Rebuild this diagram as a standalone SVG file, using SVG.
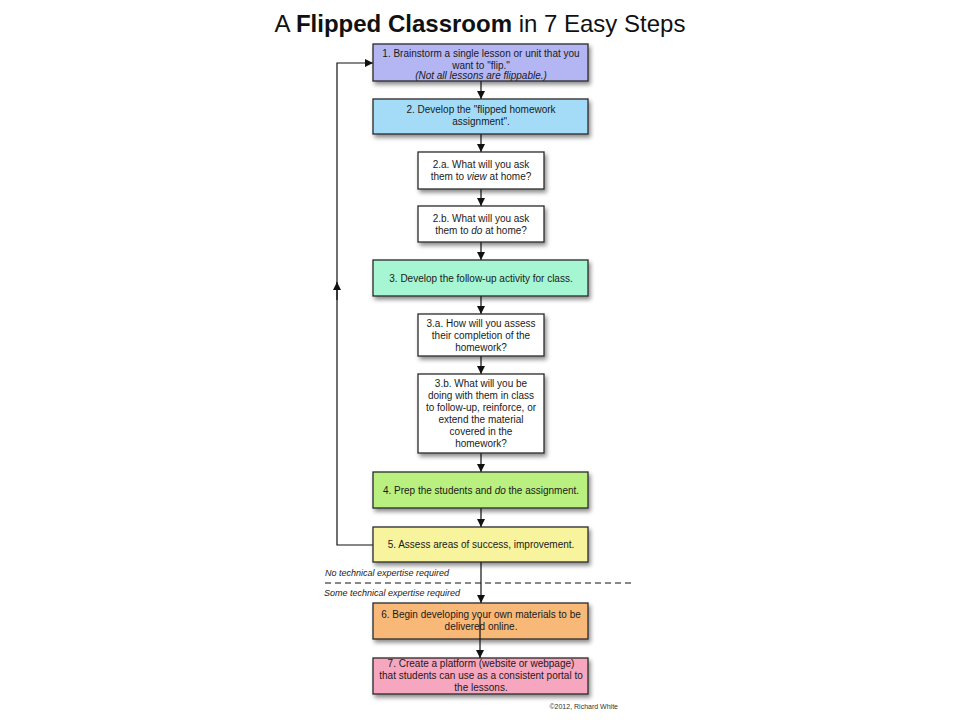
<svg xmlns="http://www.w3.org/2000/svg" width="960" height="720" viewBox="0 0 960 720">
<defs>
<filter id="sh" x="-10%" y="-20%" width="125%" height="160%">
<feDropShadow dx="2" dy="3" stdDeviation="2" flood-color="#000" flood-opacity="0.45"/>
</filter>
<marker id="ah" viewBox="0 0 10 10" refX="10" refY="5" markerWidth="8" markerHeight="8" markerUnits="userSpaceOnUse" orient="auto">
<path d="M0,0 L10,5 L0,10 z" fill="#111"/>
</marker>
<style>
.box{stroke:#2a2a2a;stroke-width:1.3;filter:url(#sh)}
.t{font-family:"Liberation Sans",Arial,sans-serif;font-size:10px;fill:#1a1a1a;text-anchor:middle}
.n{font-family:"Liberation Sans",Arial,sans-serif;font-size:9px;font-style:italic;fill:#1a1a1a}
.c{fill:none;stroke:#111;stroke-width:1.2;marker-end:url(#ah)}
</style>
</defs>
<rect width="960" height="720" fill="#fff"/>
<text x="480" y="32" text-anchor="middle" font-family="'Liberation Sans',Arial,sans-serif" font-size="24" fill="#111">A <tspan font-weight="bold">Flipped Classroom</tspan> in 7 Easy Steps</text>

<g id="connectors">
<line class="c" x1="481" y1="81" x2="481" y2="99"/>
<line class="c" x1="481" y1="134" x2="481" y2="152"/>
<line class="c" x1="481" y1="189" x2="481" y2="206"/>
<line class="c" x1="481" y1="242" x2="481" y2="260"/>
<line class="c" x1="481" y1="296" x2="481" y2="314"/>
<line class="c" x1="481" y1="356" x2="481" y2="374"/>
<line class="c" x1="481" y1="453" x2="481" y2="472"/>
<line class="c" x1="481" y1="508" x2="481" y2="527"/>
<line class="c" x1="481" y1="562" x2="481" y2="603"/>
<polyline class="c" points="373,545 337,545 337,63 373,63"/>
<line class="c" x1="337" y1="300" x2="337" y2="282"/>
</g>

<g id="node1">
<rect class="box" x="373" y="44" width="215" height="37" fill="#b4b6f3"/>
<text class="t" x="481" y="57">1. Brainstorm a single lesson or unit that you</text>
<text class="t" x="481" y="69">want to "flip."</text>
<text class="t" x="481" y="79" font-size="9" font-style="italic">(Not all lessons are flippable.)</text>
</g>
<g id="node2">
<rect class="box" x="373" y="99" width="215" height="35" fill="#a4dcf8"/>
<text class="t" x="481" y="113">2. Develop the "flipped homework</text>
<text class="t" x="481" y="125">assignment".</text>
</g>
<g id="node2a">
<rect class="box" x="418" y="152" width="126" height="37" fill="#fff"/>
<text class="t" x="481" y="168">2.a. What will you ask</text>
<text class="t" x="481" y="180">them to <tspan font-style="italic">view</tspan> at home?</text>
</g>
<g id="node2b">
<rect class="box" x="418" y="206" width="126" height="36" fill="#fff"/>
<text class="t" x="481" y="222">2.b. What will you ask</text>
<text class="t" x="481" y="234">them to <tspan font-style="italic">do</tspan> at home?</text>
</g>
<g id="node3">
<rect class="box" x="373" y="260" width="215" height="36" fill="#a6f5d3"/>
<text class="t" x="481" y="282">3. Develop the follow-up activity for class.</text>
</g>
<g id="node3a">
<rect class="box" x="418" y="314" width="126" height="42" fill="#fff"/>
<text class="t" x="481" y="327">3.a. How will you assess</text>
<text class="t" x="481" y="339">their completion of the</text>
<text class="t" x="481" y="351">homework?</text>
</g>
<g id="node3b">
<rect class="box" x="418" y="374" width="126" height="79" fill="#fff"/>
<text class="t" x="481" y="387">3.b. What will you be</text>
<text class="t" x="481" y="399">doing with them in class</text>
<text class="t" x="481" y="411">to follow-up, reinforce, or</text>
<text class="t" x="481" y="423">extend the material</text>
<text class="t" x="481" y="435">covered in the</text>
<text class="t" x="481" y="447">homework?</text>
</g>
<g id="node4">
<rect class="box" x="373" y="472" width="215" height="36" fill="#b9f07f"/>
<text class="t" x="481" y="494">4. Prep the students and <tspan font-style="italic">do</tspan> the assignment.</text>
</g>
<g id="node5">
<rect class="box" x="373" y="527" width="215" height="35" fill="#f8f39d"/>
<text class="t" x="481" y="548">5. Assess areas of success, improvement.</text>
</g>

<g id="divider">
<text class="n" x="325" y="576">No technical expertise required</text>
<line x1="325" y1="583" x2="634" y2="583" stroke="#111" stroke-width="1.2" stroke-dasharray="6,4"/>
<text class="n" x="324" y="596">Some technical expertise required</text>
</g>

<g id="node6">
<rect class="box" x="373" y="603" width="215" height="36" fill="#f8b878"/>
<text class="t" x="481" y="618">6. Begin developing your own materials to be</text>
<text class="t" x="481" y="630">delivered online.</text>
</g>
<g id="node7">
<rect class="box" x="373" y="658" width="215" height="36" fill="#f6a6be"/>
<text class="t" x="481" y="667">7. Create a platform (website or webpage)</text>
<text class="t" x="481" y="679">that students can use as a consistent portal to</text>
<text class="t" x="481" y="691">the lessons.</text>
</g>
<g id="connector67">
<line class="c" x1="480" y1="617" x2="480" y2="658"/>
</g>
<text x="618" y="709" text-anchor="end" font-family="'Liberation Sans',Arial,sans-serif" font-size="7" fill="#333">©2012, Richard White</text>
</svg>
